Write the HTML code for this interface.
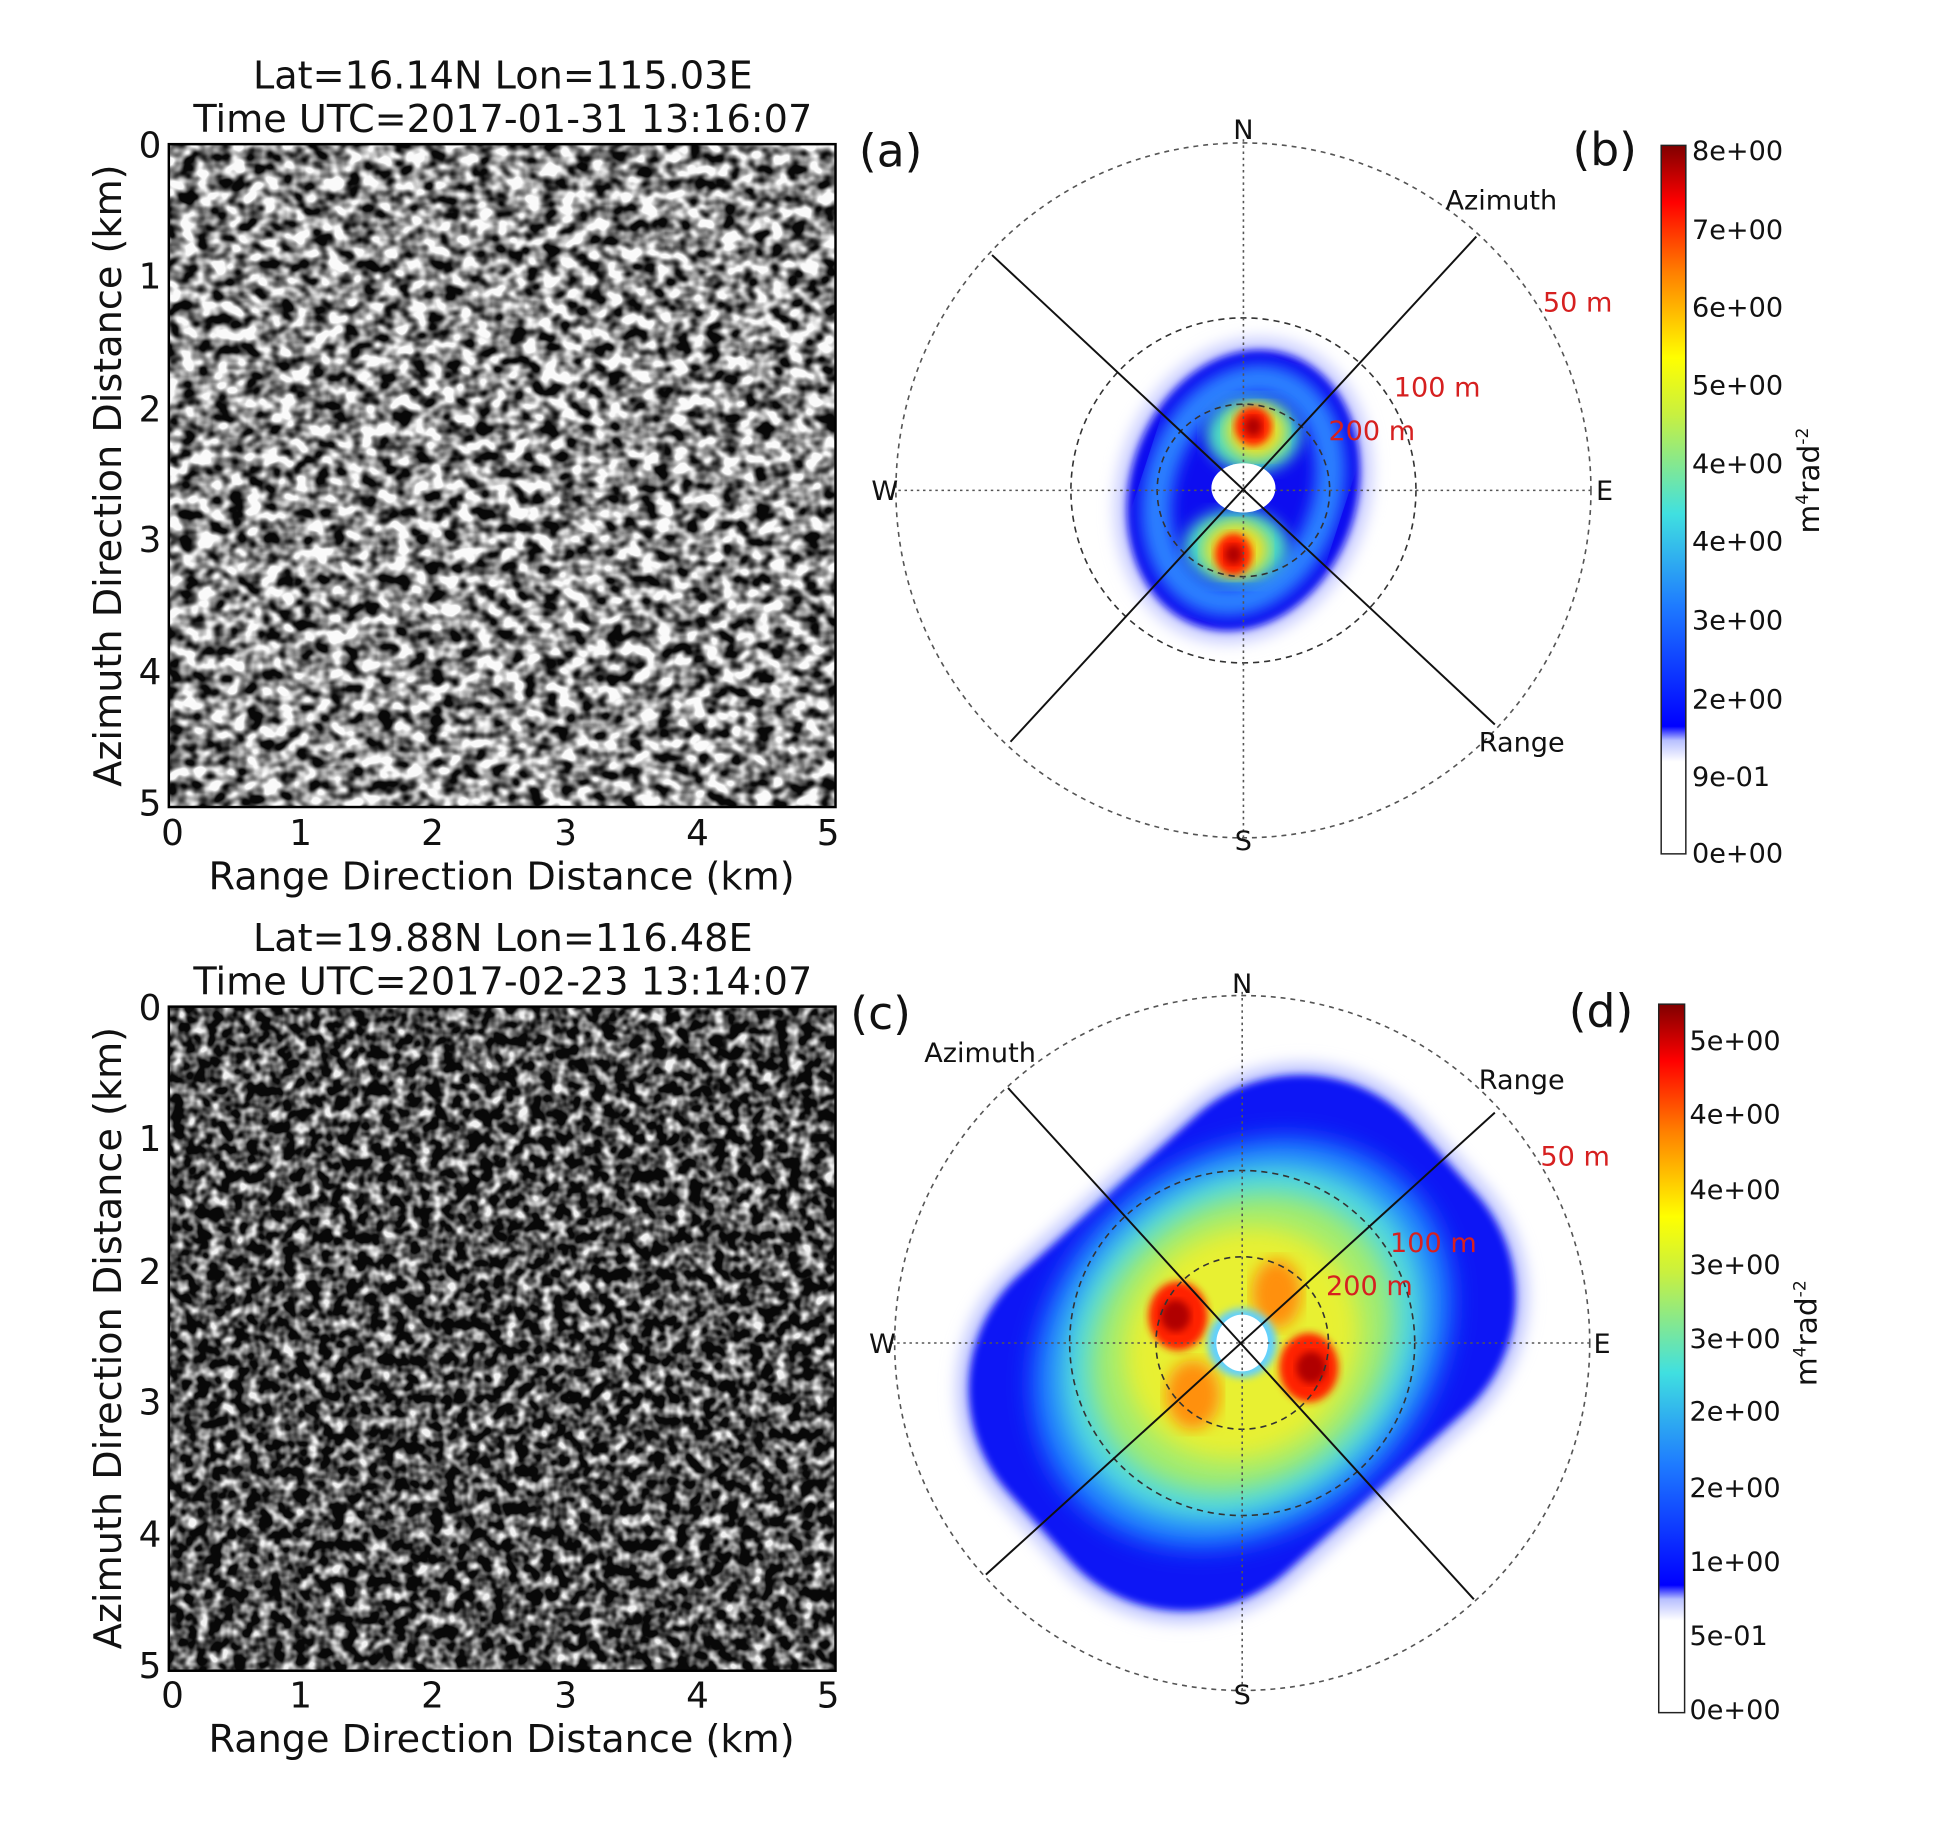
<!DOCTYPE html>
<html><head><meta charset="utf-8"><style>
html,body{margin:0;padding:0;background:#fff;}
svg{display:block;}
text{font-family:"DejaVu Sans","Liberation Sans",sans-serif;fill:#111;}
</style></head><body>
<svg width="1936" height="1826" viewBox="0 0 1571 1482" preserveAspectRatio="none" xmlns="http://www.w3.org/2000/svg">
<defs>
<filter id="nA" x="0" y="0" width="100%" height="100%" color-interpolation-filters="sRGB">
  <feTurbulence type="fractalNoise" baseFrequency="0.075 0.09" numOctaves="2" seed="3" result="t"/>
  <feComponentTransfer in="t"><feFuncA type="linear" slope="2.8" intercept="-0.85"/></feComponentTransfer>
  <feColorMatrix type="matrix" values="0 0 0 0.95 0.03  0 0 0 0.95 0.03  0 0 0 0.95 0.03  0 0 0 0 1"/>
</filter>
<filter id="nC" x="0" y="0" width="100%" height="100%" color-interpolation-filters="sRGB">
  <feTurbulence type="fractalNoise" baseFrequency="0.1" numOctaves="2" seed="8" result="t"/>
  <feComponentTransfer in="t"><feFuncA type="linear" slope="2.6" intercept="-1.0"/></feComponentTransfer>
  <feColorMatrix type="matrix" values="0 0 0 0.92 0.03  0 0 0 0.92 0.03  0 0 0 0.92 0.03  0 0 0 0 1"/>
</filter>
<filter id="bl6"><feGaussianBlur stdDeviation="6"/></filter>
<filter id="bl10"><feGaussianBlur stdDeviation="10"/></filter>
<filter id="bl3"><feGaussianBlur stdDeviation="3"/></filter>
<linearGradient id="jet" x1="0" y1="1" x2="0" y2="0">
  <stop offset="0" stop-color="#fff"/>
  <stop offset="0.13" stop-color="#fff"/>
  <stop offset="0.16" stop-color="#b8c0ff"/>
  <stop offset="0.18" stop-color="#0000ff"/>
  <stop offset="0.35" stop-color="#1e7bff"/>
  <stop offset="0.48" stop-color="#40e0e0"/>
  <stop offset="0.62" stop-color="#c8f040"/>
  <stop offset="0.7" stop-color="#ffff00"/>
  <stop offset="0.82" stop-color="#ff8000"/>
  <stop offset="0.92" stop-color="#ff0000"/>
  <stop offset="1" stop-color="#800000"/>
</linearGradient>
</defs>

<!-- Panel a -->
<rect x="137" y="117" width="541" height="538" fill="#8a8a8a" filter="url(#nA)"/>
<rect x="137" y="117" width="541" height="538" fill="none" stroke="#000" stroke-width="2"/>
<text x="408" y="72" font-size="31" text-anchor="middle">Lat=16.14N Lon=115.03E</text>
<text x="408" y="107" font-size="31" text-anchor="middle">Time UTC=2017-01-31 13:16:07</text>
<g font-size="29" text-anchor="end">
<text x="131" y="128">0</text><text x="131" y="234">1</text><text x="131" y="342">2</text><text x="131" y="448">3</text><text x="131" y="555">4</text><text x="131" y="662">5</text>
</g>
<g font-size="29" text-anchor="middle">
<text x="140" y="686">0</text><text x="244" y="686">1</text><text x="351" y="686">2</text><text x="459" y="686">3</text><text x="566" y="686">4</text><text x="672" y="686">5</text>
</g>
<text x="407" y="722" font-size="31" text-anchor="middle">Range Direction Distance (km)</text>
<text transform="translate(98,386) rotate(-90)" font-size="31" text-anchor="middle">Azimuth Direction Distance (km)</text>
<text x="697" y="135" font-size="37">(a)</text>

<!-- Panel c -->
<rect x="137" y="817" width="541" height="539" fill="#555" filter="url(#nC)"/>
<rect x="137" y="817" width="541" height="539" fill="none" stroke="#000" stroke-width="2"/>
<text x="408" y="772" font-size="31" text-anchor="middle">Lat=19.88N Lon=116.48E</text>
<text x="408" y="807" font-size="31" text-anchor="middle">Time UTC=2017-02-23 13:14:07</text>
<g font-size="29" text-anchor="end">
<text x="131" y="828">0</text><text x="131" y="934">1</text><text x="131" y="1042">2</text><text x="131" y="1148">3</text><text x="131" y="1255">4</text><text x="131" y="1362">5</text>
</g>
<g font-size="29" text-anchor="middle">
<text x="140" y="1386">0</text><text x="244" y="1386">1</text><text x="351" y="1386">2</text><text x="459" y="1386">3</text><text x="566" y="1386">4</text><text x="672" y="1386">5</text>
</g>
<text x="407" y="1422" font-size="31" text-anchor="middle">Range Direction Distance (km)</text>
<text transform="translate(98,1086) rotate(-90)" font-size="31" text-anchor="middle">Azimuth Direction Distance (km)</text>
<text x="690" y="835" font-size="37">(c)</text>

<!-- Polar b -->
<g transform="translate(1009,398)">
  <g transform="rotate(18)">
    <ellipse rx="102" ry="126" fill="#c8ccff" filter="url(#bl6)"/>
    <ellipse rx="92" ry="116" fill="#0a10f0" filter="url(#bl3)"/>
    <ellipse rx="68" ry="92" fill="none" stroke="#2a80ff" stroke-width="24" filter="url(#bl6)"/>
  </g>
  <ellipse cx="8" cy="-45" rx="38" ry="30" fill="#50e0c0" filter="url(#bl6)"/>
  <ellipse cx="-6" cy="46" rx="42" ry="30" fill="#50e0c0" filter="url(#bl6)"/>
  <ellipse cx="10" cy="-48" rx="24" ry="22" fill="#f0e020" filter="url(#bl6)"/>
  <ellipse cx="-6" cy="48" rx="26" ry="22" fill="#f0e020" filter="url(#bl6)"/>
  <ellipse cx="8" cy="-52" rx="15" ry="16" fill="#ff2000" filter="url(#bl3)"/>
  <ellipse cx="-8" cy="52" rx="15" ry="17" fill="#ff2000" filter="url(#bl3)"/>
  <ellipse cx="8" cy="-52" rx="7" ry="8" fill="#b00000" filter="url(#bl3)"/>
  <ellipse cx="-8" cy="52" rx="7" ry="8" fill="#b00000" filter="url(#bl3)"/>
  <ellipse cx="0" cy="-2" rx="26" ry="20" fill="#fff"/>
  <g fill="none" stroke="#555" stroke-width="1.3">
    <circle r="282" stroke-dasharray="4,4"/>
    <circle r="140" stroke-dasharray="5,4" stroke="#333"/>
    <circle r="70" stroke-dasharray="5,4" stroke="#333"/>
    <line x1="0" y1="-285" x2="0" y2="285" stroke-dasharray="2,3"/>
    <line x1="-285" y1="0" x2="285" y2="0" stroke-dasharray="2,3"/>
  </g>
  <g stroke="#111" stroke-width="1.6">
    <line x1="-204" y1="-191" x2="204" y2="190"/>
    <line x1="-189" y1="204" x2="189" y2="-206"/>
  </g>
</g>
<g font-size="22">
<text x="1009" y="113" text-anchor="middle">N</text>
<text x="1009" y="690" text-anchor="middle">S</text>
<text x="718" y="406" text-anchor="middle">W</text>
<text x="1302" y="406" text-anchor="middle">E</text>
<text x="1173" y="170">Azimuth</text>
<text x="1200" y="610">Range</text>
</g>
<g font-size="22">
<text x="1252" y="253" style="fill:#d62020">50 m</text>
<text x="1131" y="322" style="fill:#d62020">100 m</text>
<text x="1078" y="357" style="fill:#d62020">200 m</text>
</g>
<text x="1276" y="134" font-size="37">(b)</text>
<rect x="1348" y="118" width="20" height="575" fill="url(#jet)" stroke="#222" stroke-width="1.2"/>
<g font-size="22">
<text x="1373" y="130">8e+00</text><text x="1373" y="194">7e+00</text><text x="1373" y="257">6e+00</text><text x="1373" y="320">5e+00</text><text x="1373" y="384">4e+00</text><text x="1373" y="447">4e+00</text><text x="1373" y="511">3e+00</text><text x="1373" y="575">2e+00</text><text x="1373" y="638">9e-01</text><text x="1373" y="700">0e+00</text>
</g>
<text transform="translate(1476,390) rotate(-90)" font-size="24" text-anchor="middle">m<tspan font-size="14" dy="-9">4</tspan><tspan dy="9">rad</tspan><tspan font-size="14" dy="-9">-2</tspan></text>

<!-- Polar d -->
<g transform="translate(1008,1090)">
  <g transform="rotate(-42)">
    <rect x="-232" y="-172" width="464" height="344" rx="135" fill="#c0c6ff" filter="url(#bl6)"/>
    <rect x="-222" y="-162" width="444" height="324" rx="125" fill="#0a14f5" filter="url(#bl3)"/>
    <ellipse rx="185" ry="150" fill="#1e80ff" filter="url(#bl10)"/>
    <ellipse rx="160" ry="132" fill="#50d8e0" filter="url(#bl10)"/>
    <ellipse rx="132" ry="112" fill="#a0ec70" filter="url(#bl10)"/>
    <ellipse rx="100" ry="90" fill="#e8f030" filter="url(#bl10)"/>
  </g>
  <ellipse cx="28" cy="-40" rx="20" ry="28" fill="#ff9010" filter="url(#bl6)"/>
  <ellipse cx="-40" cy="42" rx="22" ry="28" fill="#ff9010" filter="url(#bl6)"/>
  <ellipse cx="-52" cy="-22" rx="24" ry="28" fill="#ff2000" filter="url(#bl3)"/>
  <ellipse cx="54" cy="20" rx="24" ry="28" fill="#ff2000" filter="url(#bl3)"/>
  <ellipse cx="-54" cy="-22" rx="12" ry="13" fill="#b00000" filter="url(#bl3)"/>
  <ellipse cx="56" cy="20" rx="12" ry="13" fill="#b00000" filter="url(#bl3)"/>
  <circle r="28" fill="#60d0ff" filter="url(#bl3)"/>
  <ellipse rx="21" ry="23" fill="#fff"/>
  <g fill="none" stroke="#555" stroke-width="1.3">
    <circle r="282" stroke-dasharray="4,4"/>
    <circle r="140" stroke-dasharray="5,4" stroke="#333"/>
    <circle r="70" stroke-dasharray="5,4" stroke="#333"/>
    <line x1="0" y1="-285" x2="0" y2="285" stroke-dasharray="2,3"/>
    <line x1="-285" y1="0" x2="285" y2="0" stroke-dasharray="2,3"/>
  </g>
  <g stroke="#111" stroke-width="1.6">
    <line x1="-190" y1="-207" x2="188" y2="208"/>
    <line x1="-208" y1="188" x2="205" y2="-187"/>
  </g>
</g>
<g font-size="22">
<text x="1008" y="806" text-anchor="middle">N</text>
<text x="1008" y="1383" text-anchor="middle">S</text>
<text x="716" y="1098" text-anchor="middle">W</text>
<text x="1300" y="1098" text-anchor="middle">E</text>
<text x="750" y="862">Azimuth</text>
<text x="1200" y="884">Range</text>
</g>
<g font-size="22">
<text x="1250" y="946" style="fill:#d62020">50 m</text>
<text x="1128" y="1016" style="fill:#d62020">100 m</text>
<text x="1076" y="1051" style="fill:#d62020">200 m</text>
</g>
<text x="1273" y="833" font-size="37">(d)</text>
<rect x="1346" y="815" width="21" height="575" fill="url(#jet)" stroke="#222" stroke-width="1.2"/>
<g font-size="22">
<text x="1371" y="852">5e+00</text><text x="1371" y="912">4e+00</text><text x="1371" y="973">4e+00</text><text x="1371" y="1034">3e+00</text><text x="1371" y="1094">3e+00</text><text x="1371" y="1153">2e+00</text><text x="1371" y="1215">2e+00</text><text x="1371" y="1275">1e+00</text><text x="1371" y="1335">5e-01</text><text x="1371" y="1395">0e+00</text>
</g>
<text transform="translate(1474,1082) rotate(-90)" font-size="24" text-anchor="middle">m<tspan font-size="14" dy="-9">4</tspan><tspan dy="9">rad</tspan><tspan font-size="14" dy="-9">-2</tspan></text>
</svg>
</body></html>
